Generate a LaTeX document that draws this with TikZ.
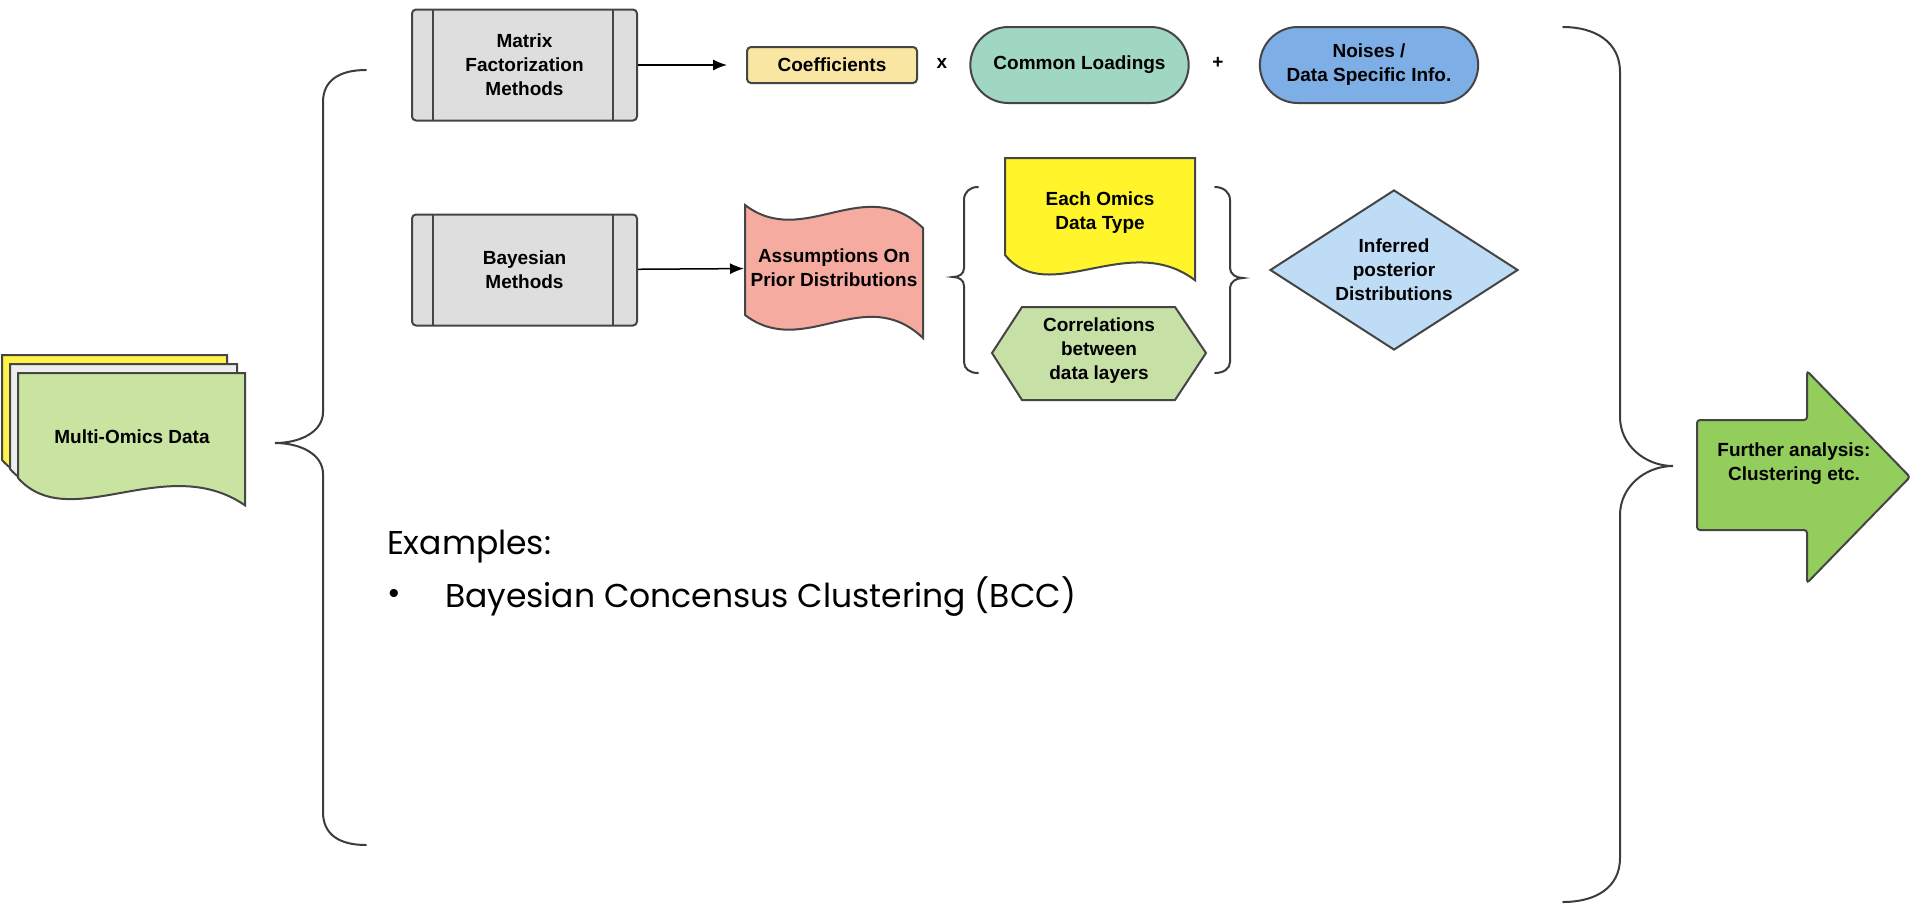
\documentclass[tikz,border=0pt]{standalone}
\usepackage{fontspec}
\setmainfont{Liberation Sans}
\newfontfamily\slidefont{Poppins}
\usepackage{tikz}
\usetikzlibrary{shapes,arrows.meta}

\definecolor{lineclr}{HTML}{454545}
\definecolor{braceclr}{HTML}{3C3C3C}
\definecolor{boxgray}{HTML}{DEDEDE}
\definecolor{coefyellow}{HTML}{F8E6A2}
\definecolor{loadteal}{HTML}{A0D7C3}
\definecolor{noiseblue}{HTML}{7DAFE6}
\definecolor{priorred}{HTML}{F5ABA0}
\definecolor{omicsyellow}{HTML}{FFF52A}
\definecolor{corrgreen}{HTML}{C6E0A6}
\definecolor{postblue}{HTML}{BEDCF5}
\definecolor{datagreen}{HTML}{C8E4A0}
\definecolor{layergray}{HTML}{EEEEEE}
\definecolor{layeryellow}{HTML}{FFF34A}
\definecolor{arrowgreen}{HTML}{93CD5C}

\tikzset{
every picture/.style={
line width=2pt
}}

% document shape: left, top, right, bottom (left side), fill
\newcommand{\docshape}[5]{%
\draw[outline, fill=#5] (#1,#2) -- (#3,#2) -- (#3,{#4+0.26*(#4-#2)})
  .. controls ({#1+0.65*(#3-#1)},{#4-0.26*(#4-#2)}) and ({#1+0.23*(#3-#1)},{#4+0.55*(#4-#2)}) .. (#1,#4) -- cycle;}

\begin{document}
\begin{tikzpicture}[x=1pt, y=-1pt,
outline/.style = {draw=lineclr, line width=2pt},
label/.style = {font=\fontsize{19}{24}\selectfont\bfseries, align=center, text=black},
process/.style = {outline, label, rectangle, rounded corners=4pt, fill=boxgray,
  minimum width=225pt, minimum height=111pt,
  path picture={\draw[line width=2pt, draw=lineclr]
    ([xshift=21pt]path picture bounding box.north west) -- ([xshift=21pt]path picture bounding box.south west)
    ([xshift=-24pt]path picture bounding box.north east) -- ([xshift=-24pt]path picture bounding box.south east);}},
term/.style = {outline, label, rounded rectangle, minimum width=225pt, minimum height=76pt},
flow/.style = {draw=black, line width=1.5pt, -{Latex[length=14pt,width=11pt]}},
brace/.style = {draw=braceclr, line width=2pt, line cap=round},
slide/.style = {font=\slidefont\fontsize{33}{40}\selectfont, text=black, anchor=west, inner sep=0pt}]

\fill[white] (0,0) rectangle (1913,905);
\useasboundingbox (0,0) rectangle (1913,905);

% input data
\docshape{2}{355}{227}{460}{layeryellow}
\docshape{10}{364}{237}{469}{layergray}
\docshape{18}{373}{245}{478}{datagreen}
\node[label, minimum width=227pt, minimum height=105pt] (multi) at (132,437) {Multi-Omics Data};

% braces
\draw[brace] (366,70) .. controls (340,70) and (323,80) .. (323,102) -- (323,412)
  .. controls (323,432) and (300,443) .. (275,443) .. controls (300,443) and (323,454) .. (323,474)
  -- (323,812) .. controls (323,835) and (340,845) .. (366,845);
\draw[brace] (1563,27) .. controls (1595,27) and (1620,42) .. (1620,72) -- (1620,417)
  .. controls (1620,445) and (1645,466) .. (1673,466) .. controls (1645,466) and (1620,487) .. (1620,515)
  -- (1620,858) .. controls (1620,888) and (1595,902) .. (1563,902);

% matrix factorization row
\node[process] (matrix) at (524.5,65) {Matrix\\Factorization\\Methods};
\node[outline, label, rectangle, rounded corners=4pt, fill=coefyellow,
  minimum width=170pt, minimum height=36pt] (coef) at (832,65) {Coefficients};
\node[label] (times) at (942,63) {x};
\node[term, fill=loadteal] (loadings) at (1079.5,65) {Common Loadings};
\node[label] (plus) at (1218,63) {+};
\node[term, fill=noiseblue] (noises) at (1369,65) {Noises /\\Data Specific Info.};
\draw[flow, shorten >=19pt] (matrix) -- (coef);

% bayesian row
\node[process] (bayes) at (524.5,270) {Bayesian\\Methods};
\draw[outline, fill=priorred] (745,205) .. controls (804,250) and (864,172) .. (923,228)
  -- (923,338) .. controls (864,282) and (804,360) .. (745,315) -- cycle;
\node[label, minimum width=178pt, minimum height=100pt] (prior) at (834,268) {Assumptions On\\Prior Distributions};
\draw[flow] (bayes) -- (prior);

\draw[brace] (978,187) .. controls (970,187) and (964,192) .. (964,200) -- (964,268)
  .. controls (964,274) and (959,277) .. (953,277) .. controls (959,277) and (964,280) .. (964,286)
  -- (964,362) .. controls (964,369) and (970,373) .. (978,373);
\draw[brace] (1215,187) .. controls (1223,187) and (1230,192) .. (1230,200) -- (1230,268)
  .. controls (1230,274) and (1236,278) .. (1243,278) .. controls (1236,278) and (1230,282) .. (1230,288)
  -- (1230,362) .. controls (1230,369) and (1223,373) .. (1215,373);

\docshape{1005}{158}{1195}{255}{omicsyellow}
\node[label] (omics) at (1100,213) {Each Omics\\Data Type};
\draw[outline, fill=corrgreen] (992,353) -- (1022,307) -- (1175,307) -- (1206,353)
  -- (1175,400) -- (1022,400) -- cycle;
\node[label] (corr) at (1099,351) {Correlations\\between\\data layers};

\node[outline, label, diamond, aspect=1.55, inner sep=0pt, fill=postblue,
  minimum width=248pt, minimum height=160pt] (posterior) at (1394,270) {Inferred\\posterior\\Distributions};

% further analysis
\draw[outline, fill=arrowgreen, rounded corners=3pt] (1697,420) -- (1807,420) -- (1807,371)
  -- (1910,477) -- (1807,583) -- (1807,530) -- (1697,530) -- cycle;
\node[label] (further) at (1794,464) {Further analysis:\\Clustering etc.};

% examples
\node[slide] (examples) at (386,547) {Examples:};
\node[slide] (bullet) at (386,597) {•};
\node[slide] (bcc) at (444,597) {Bayesian Concensus Clustering (BCC)};
\end{tikzpicture}
\end{document}
